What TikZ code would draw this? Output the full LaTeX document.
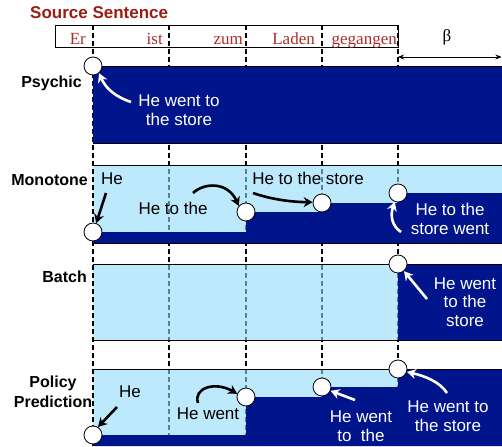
\documentclass[tikz,border=0pt]{standalone}
\usepackage{fontspec}
\setmainfont{Liberation Serif}
\newfontfamily\sansf{Liberation Sans}
\usetikzlibrary{arrows.meta}
\definecolor{dkblue}{RGB}{0,20,140}
\definecolor{ltblue}{RGB}{145,218,251}
\definecolor{srcred}{RGB}{155,28,18}
\definecolor{wordred}{RGB}{170,45,40}
\begin{document}
\begin{tikzpicture}[x=1pt,y=-1pt,
  circ/.style={circle,draw=black,fill=white,line width=0.8pt,minimum size=18pt,inner sep=0pt},
  wtxt/.style={text=white,font=\sansf\fontsize{17}{18.5}\selectfont,align=center,inner sep=0pt},
  btxt/.style={text=black,font=\sansf\fontsize{17}{18.5}\selectfont,align=center,inner sep=0pt},
  lbl/.style={font=\sansf\bfseries\fontsize{16}{20.5}\selectfont,align=center,inner sep=0pt},
  word/.style={font=\fontsize{17}{19}\selectfont,text=wordred,inner sep=0pt,anchor=base east},
  vdash/.style={dash pattern=on 5pt off 3pt,line width=1.3pt},
  warr/.style={draw=white,line width=2.6pt,-{Stealth[length=9pt,width=10pt]}},
  barr/.style={draw=black,line width=2.6pt,-{Stealth[length=9pt,width=10pt]}},
  lightfill/.style={fill=ltblue,fill opacity=0.6,draw=none},
  darkfill/.style={fill=dkblue,draw=none}]
\useasboundingbox (0,0) rectangle (502,446);
% title
\node[font=\sansf\bfseries\fontsize{17}{20}\selectfont,text=srcred,anchor=base west,inner sep=0pt] (title) at (30,19) {Source Sentence};
% source box
\draw[line width=0.8pt] (55,25) rectangle (398,47);
\node[word] (w1) at (86,45) {Er};
\node[word] (w2) at (163,45) {ist};
\node[word] (w3) at (243,45) {zum};
\node[word] (w4) at (315,45) {Laden};
\node[word] (w5) at (397,45) {gegangen};
\node[font=\fontsize{17}{19}\selectfont,inner sep=0pt] (beta) at (447,37) {β};
\coordinate (ba) at (398,57);
\coordinate (bb) at (501.5,57);
\draw[line width=0.8pt,{Stealth[length=6pt,width=5pt]}-{Stealth[length=6pt,width=5pt]}] (ba) -- (bb);
% dashed verticals
\foreach \x in {93,169,246,322,398} \draw[vdash] (\x,25) -- (\x,446);
% light fills
\fill[lightfill] (93,165) rectangle (502,243);
\fill[lightfill] (93,264) rectangle (398,340);
\fill[lightfill] (93,369) rectangle (398,446);
\draw[vdash] (93,25) -- (93,446);
% dark fills
\fill[darkfill] (93,66) rectangle (502,143);
\fill[darkfill] (93,232) -- (246,232) -- (246,212) -- (322,212) -- (322,203) -- (398,203) -- (398,193) -- (502,193) -- (502,243) -- (93,243) -- cycle;
\fill[darkfill] (398,264) rectangle (502,340);
\fill[darkfill] (93,435) -- (246,435) -- (246,397) -- (322,397) -- (322,387) -- (398,387) -- (398,369) -- (502,369) -- (502,446) -- (93,446) -- cycle;
% borders
\draw[line width=0.8pt] (93,66) -- (502,66);
\draw[line width=0.8pt] (93,143) -- (502,143);
\draw[line width=0.8pt] (93,165) -- (502,165);
\draw[line width=0.8pt] (93,243) -- (502,243);
\draw[line width=0.8pt] (93,264) -- (502,264);
\draw[line width=0.8pt] (93,340) -- (502,340);
\draw[line width=0.8pt] (93,369) -- (502,369);
% row labels
\node[lbl,anchor=east] (lpsy) at (82,83) {Psychic};
\node[lbl,anchor=east] (lmono) at (88,180) {Monotone};
\node[lbl,anchor=east] (lbatch) at (87,277) {Batch};
\node[lbl] (lpol) at (53,392) {Policy\\Prediction};
% Psychic
\node[circ] (p0) at (93,66) {};
\node[wtxt] (pt) at (179,110) {He went to\\the store};
\coordinate (pa) at (131,102);
\draw[warr] (pa) .. controls (116,97) and (106,89) .. (p0.-50);
% Monotone
\node[circ] (m0) at (93,232) {};
\node[circ] (m1) at (246,212) {};
\node[circ] (m2) at (322,203) {};
\node[circ] (m3) at (398,193) {};
\node[btxt] (mhe) at (112,179) {He};
\node[btxt] (mt1) at (173,208) {He to the};
\node[btxt] (mt2) at (308,178) {He to the store};
\node[wtxt] (mt3) at (450,219) {He to the\\store went};
\coordinate (ma) at (106,193);
\draw[barr] (ma) -- (m0.70);
\coordinate (mb) at (193,193);
\draw[barr] (mb) .. controls (205,182) and (228,182) .. (m1.140);
\coordinate (mc) at (253,193);
\draw[barr] (mc) .. controls (270,199) and (290,202) .. (m2.175);
\coordinate (md) at (401,232);
\draw[warr] (md) .. controls (392,226) and (390,216) .. (m3.-110);
% Batch
\node[circ] (b0) at (398,264) {};
\node[wtxt] (bt) at (465,302) {He went\\to the\\store};
\coordinate (bz) at (427,299);
\draw[warr] (bz) -- (b0.-50);
% Policy
\node[circ] (q0) at (93,435) {};
\node[circ] (q1) at (246,397) {};
\node[circ] (q2) at (322,387) {};
\node[circ] (q3) at (398,369) {};
\node[btxt] (qhe) at (130,392) {He};
\node[btxt] (qt1) at (208,414) {He went};
\node[wtxt] (qt2) at (361,426) {He went\\to\ \ the};
\node[wtxt] (qt3) at (448,416) {He went to\\the store};
\coordinate (qa) at (117,407);
\draw[barr] (qa) -- (q0.58);
\coordinate (qb) at (198,403);
\draw[barr] (qb) .. controls (193,388) and (215,381) .. (q1.160);
\coordinate (qc) at (355,400);
\draw[warr] (qc) -- (q2.-24);
\coordinate (qd) at (447,393);
\draw[warr] (qd) .. controls (440,382) and (425,376) .. (q3.-18);
\end{tikzpicture}
\end{document}
